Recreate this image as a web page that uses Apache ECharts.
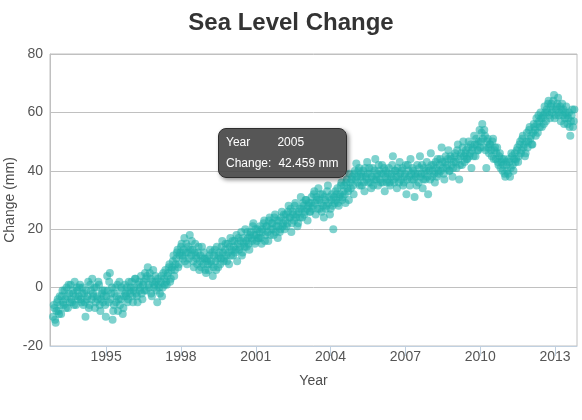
<!DOCTYPE html>
<html>
<head>
<meta charset="utf-8">
<title>Sea Level Change</title>
<script src="https://cdn.jsdelivr.net/npm/echarts@6/dist/echarts.min.js"></script>
<style>
  html, body { margin: 0; padding: 0; background: #fff; }
  #sea-level-chart { width: 582px; height: 420px; }
</style>
</head>
<body>
<div id="sea-level-chart"></div>
<script>
// one value per ~10 day altimeter cycle, starting late 1992
var firstCycleYear = 1992.87;
var cycleDays = 9.9156;

// sea level change (mm), 38 cycles per row
var changeMm = [
    -10, -6, -7, -11, -12, -8, -5, -4, -8, -9, -3, -6, -9, -3, -1, -5, -6, -1, -4, -7, 0, -3, -7, 1, -2, -5, 1, -4, -5, -1, -2, -6, 2, -3, -6, 0, -1, -4,
    -3, 0, 1, -4, -5, -2, 0, -6, -2, -5, -10, -1, -4, -3, 2, -7, -6, 1, -1, -4, 3, -2, -3, 0, -7, -5, 0, -3, -4, 2, 1, -6, -8, -4, -2, -1, -5, -3,
    -1, -6, -10, -3, 4, -1, -5, 2, 5, -4, -2, 0, -11, -8, -6, -2, 0, -5, -3, 1, -8, -4, 2, -6, -4, 0, -1, -9, -7, -3, 1, -2, -3, 0, -5, -4, 2, -1,
    -2, 0, 2, -3, -5, -1, 0, 3, 3, -2, -3, -5, 1, 2, -1, 0, 4, -2, -4, 1, 2, -1, 5, 3, -1, 4, 7, 1, 0, 5, 3, -2, -3, 2, 6, 0, 1, 4,
    2, -1, -5, 3, 1, 0, -2, 2, 4, -3, 0, 5, 3, 1, 6, 2, 1, 4, 5, 7, 8, 2, 3, 6, 7, 9, 11, 4, 6, 8, 10, 12, 13, 7, 8, 11, 12, 14,
    15, 11, 10, 13, 17, 9, 12, 15, 8, 12, 14, 10, 18, 13, 11, 16, 13, 9, 7, 12, 15, 11, 10, 8, 12, 14, 6, 9, 11, 7, 14, 10, 8, 12, 10, 6, 5, 9,
    10, 8, 6, 11, 13, 9, 8, 12, 4, 7, 11, 13, 9, 6, 14, 10, 7, 11, 12, 8, 10, 14, 16, 12, 9, 10, 13, 15, 11, 9, 15, 12, 8, 14, 17, 11, 13, 16,
    11, 14, 16, 12, 13, 18, 9, 15, 17, 13, 14, 16, 19, 11, 12, 17, 15, 14, 20, 16, 14, 19, 17, 15, 13, 18, 19, 17, 16, 21, 22, 18, 15, 20, 18, 16, 20, 17,
    17, 19, 21, 17, 15, 20, 19, 22, 23, 16, 18, 21, 21, 19, 16, 23, 24, 18, 20, 22, 22, 20, 18, 24, 25, 19, 21, 23, 17, 21, 23, 19, 20, 24, 26, 21, 22, 25,
    20, 23, 25, 21, 22, 26, 28, 24, 24, 27, 19, 22, 26, 25, 23, 28, 29, 24, 25, 21, 22, 26, 27, 24, 31, 27, 24, 29, 28, 25, 26, 30, 30, 27, 23, 28, 29, 26,
    26, 29, 31, 27, 28, 32, 33, 29, 25, 31, 30, 27, 34, 30, 27, 32, 29, 26, 32, 28, 24, 31, 30, 27, 28, 33, 35, 29, 31, 25, 27, 30, 32, 28, 20, 31, 29, 33,
    30, 32, 34, 29, 28, 31, 32, 35, 36, 30, 31, 33, 35, 32, 29, 36, 37, 34, 33, 30, 39, 36, 34, 37, 38, 35, 32, 39, 40, 37, 42.459, 38, 36, 40, 41, 35, 38, 39,
    35, 38, 40, 36, 33, 41, 38, 37, 43, 39, 36, 41, 39, 36, 34, 38, 41, 35, 37, 40, 44, 37, 38, 39, 35, 42, 40, 37, 36, 39, 42, 36, 39, 41, 33, 38, 40, 36,
    37, 39, 41, 36, 35, 38, 39, 42, 45, 37, 36, 40, 40, 38, 34, 41, 38, 36, 43, 39, 37, 40, 41, 35, 36, 38, 39, 42, 32, 37, 42, 40, 38, 35, 44, 39, 37, 41,
    40, 37, 31, 39, 38, 35, 42, 39, 36, 41, 45, 38, 39, 42, 34, 37, 41, 39, 37, 40, 43, 38, 32, 41, 40, 37, 46, 42, 38, 40, 42, 39, 36, 43, 41, 38, 44, 40,
    39, 42, 44, 40, 48, 43, 41, 39, 37, 43, 45, 41, 42, 44, 47, 40, 40, 45, 44, 42, 38, 41, 43, 45, 46, 43, 41, 47, 49, 44, 37, 42, 45, 46, 42, 48, 50, 45,
    43, 46, 47, 44, 44, 48, 50, 45, 46, 49, 41, 47, 48, 45, 52, 49, 45, 51, 49, 47, 47, 50, 54, 48, 50, 53, 56, 51, 48, 54, 52, 47, 41, 50, 51, 48, 46, 49,
    49, 47, 45, 50, 51, 44, 47, 48, 44, 46, 48, 43, 42, 45, 46, 41, 43, 44, 40, 42, 44, 39, 38, 43, 42, 40, 39, 44, 43, 38, 41, 46, 45, 42, 40, 44, 46, 43,
    44, 47, 48, 43, 45, 49, 50, 46, 47, 51, 52, 48, 49, 45, 46, 50, 53, 48, 50, 54, 55, 51, 52, 49, 49, 53, 56, 55, 54, 52, 58, 56, 53, 59, 57, 55, 60, 58,
    55, 58, 59, 56, 62, 60, 57, 61, 60, 63, 64, 59, 58, 62, 63, 60, 61, 64, 66, 58, 59, 61, 62, 63, 65, 59, 60, 62, 57, 61, 63, 59, 61, 56, 58, 60, 62, 59,
    56, 58, 60, 55, 52, 57, 59, 61, 55, 57, 61
];

var yearTicks = [1995, 1998, 2001, 2004, 2007, 2010, 2013];
var hoveredIndex = 448;

var points = [];
for (var i = 0; i < changeMm.length; i++) {
    points.push([firstCycleYear + i * cycleDays / 365.25, changeMm[i]]);
}

var font = "'Liberation Sans', Arial, sans-serif";
var chart = echarts.init(document.getElementById('sea-level-chart'));

var option = {
    animation: false,
    textStyle: { fontFamily: font },
    title: {
        text: 'Sea Level Change',
        left: 'center',
        top: 6,
        textStyle: { fontSize: 24, fontWeight: 'bold', color: '#333', fontFamily: font }
    },
    grid: {
        left: 50, right: 5, top: 54, bottom: 74,
        outerBoundsMode: 'none',
        containLabel: false,
        show: true,
        borderColor: '#c0c0c0',
        borderWidth: 1
    },
    tooltip: {
        trigger: 'item',
        triggerOn: 'none',
        alwaysShowContent: true,
        backgroundColor: 'rgba(72,72,72,0.92)',
        borderColor: '#2e2e2e',
        borderWidth: 1,
        padding: [5, 7, 5, 7],
        extraCssText: 'border-radius:8px;box-shadow:2px 2px 4px rgba(0,0,0,0.45);',
        textStyle: { color: '#fff', fontSize: 12, fontFamily: font },
        position: function (point) {
            return [point[0] - 138, point[1] - 36];
        },
        formatter: function (p) {
            return '<table style="border-collapse:collapse;color:#fff;font-size:12px;line-height:16px">' +
                '<tr><td style="padding:0 8px 4px 0">Year</td><td style="padding:0 0 4px 0">' + Math.floor(p.value[0]) + '</td></tr>' +
                '<tr><td style="padding:0 6px 0 0">Change:</td><td>' + p.value[1].toFixed(3) + ' mm</td></tr>' +
                '</table>';
        }
    },
    xAxis: {
        type: 'value',
        min: 1992.75,
        max: 2013.88,
        name: 'Year',
        nameLocation: 'middle',
        nameGap: 28,
        nameMoveOverlap: false,
        nameTextStyle: { fontSize: 14, color: '#4d4d4d' },
        axisLine: { show: true, onZero: false, lineStyle: { color: '#c0d0e0' } },
        axisTick: { show: true, customValues: yearTicks, length: 10, inside: false, lineStyle: { color: '#c0d0e0' } },
        axisLabel: {
            customValues: yearTicks,
            margin: 4,
            fontSize: 14,
            color: '#555',
            formatter: function (v) { return String(v); }
        },
        splitLine: { show: false }
    },
    yAxis: {
        type: 'value',
        min: -20,
        max: 80,
        interval: 20,
        name: 'Change (mm)',
        nameLocation: 'middle',
        nameGap: 33,
        nameMoveOverlap: false,
        nameTextStyle: { fontSize: 14, color: '#4d4d4d' },
        axisLine: { show: true, lineStyle: { color: '#c0c0c0' } },
        axisTick: { show: false },
        axisLabel: { margin: 7, fontSize: 14, color: '#555' },
        splitLine: { lineStyle: { color: '#c0c0c0' } }
    },
    series: [
        {
            name: 'Sea Level',
            type: 'scatter',
            symbol: 'circle',
            symbolSize: 8,
            itemStyle: { color: '#20b2aa', opacity: 0.58 },
            emphasis: { scale: false },
            data: points
        }
    ]
};

chart.setOption(option);
chart.dispatchAction({ type: 'showTip', seriesIndex: 0, dataIndex: hoveredIndex });
window.onresize = chart.resize;
</script>
</body>
</html>
